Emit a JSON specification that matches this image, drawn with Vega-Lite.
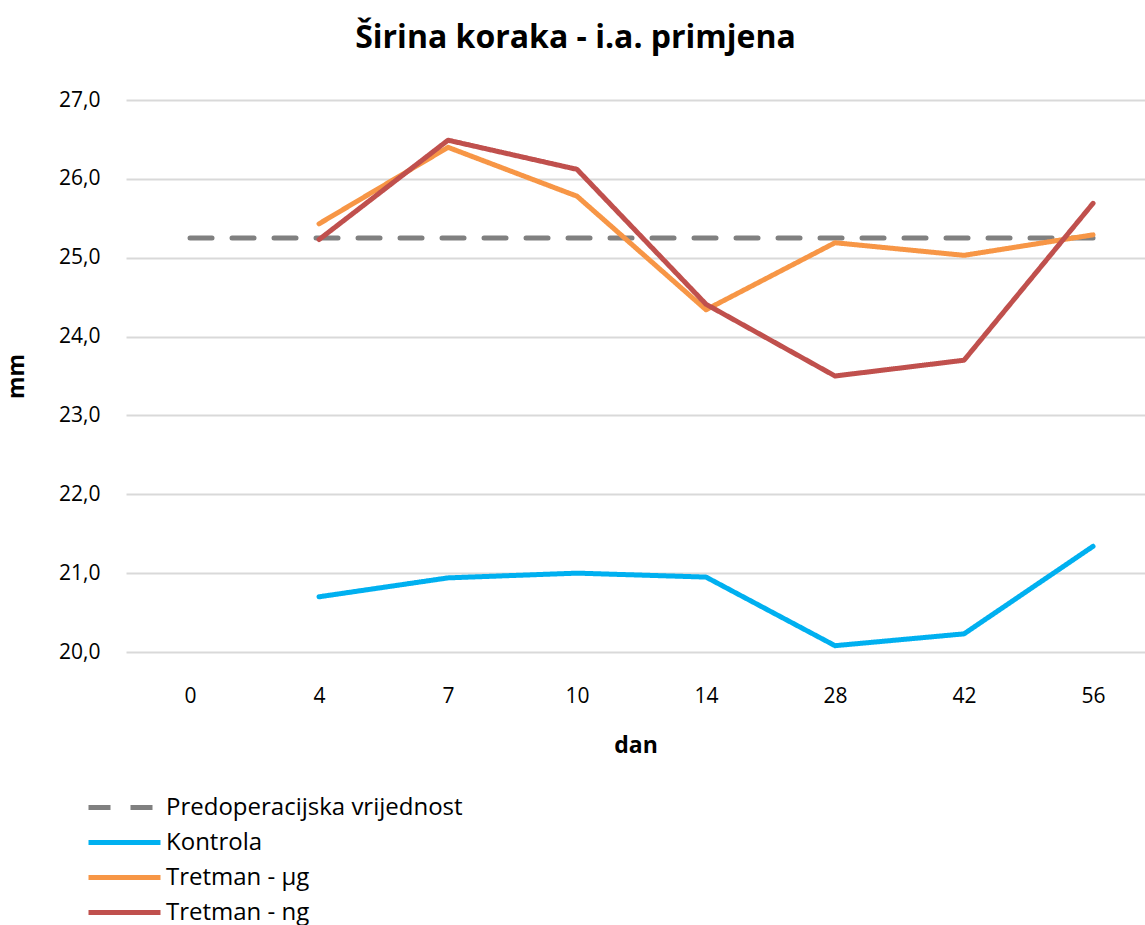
{
  "$schema": "https://vega.github.io/schema/vega-lite/v6.json",
  "width": 1019,
  "height": 552,
  "autosize": {"type": "none"},
  "padding": {"left": 126, "top": 100, "right": 0, "bottom": 273},
  "background": "white",
  "title": {
    "text": "Širina koraka - i.a. primjena",
    "font": "Open Sans",
    "fontSize": 32,
    "fontWeight": "bold",
    "color": "#000000",
    "anchor": "middle",
    "dx": -60,
    "offset": 34
  },
  "config": {
    "view": {"stroke": null},
    "font": "Open Sans"
  },
  "data": {
    "values": [
      {"dan": "0", "serija": "Predoperacijska vrijednost", "mm": 25.25},
      {"dan": "4", "serija": "Predoperacijska vrijednost", "mm": 25.25},
      {"dan": "7", "serija": "Predoperacijska vrijednost", "mm": 25.25},
      {"dan": "10", "serija": "Predoperacijska vrijednost", "mm": 25.25},
      {"dan": "14", "serija": "Predoperacijska vrijednost", "mm": 25.25},
      {"dan": "28", "serija": "Predoperacijska vrijednost", "mm": 25.25},
      {"dan": "42", "serija": "Predoperacijska vrijednost", "mm": 25.25},
      {"dan": "56", "serija": "Predoperacijska vrijednost", "mm": 25.25},
      {"dan": "4", "serija": "Kontrola", "mm": 20.70},
      {"dan": "7", "serija": "Kontrola", "mm": 20.94},
      {"dan": "10", "serija": "Kontrola", "mm": 21.00},
      {"dan": "14", "serija": "Kontrola", "mm": 20.95},
      {"dan": "28", "serija": "Kontrola", "mm": 20.08},
      {"dan": "42", "serija": "Kontrola", "mm": 20.23},
      {"dan": "56", "serija": "Kontrola", "mm": 21.34},
      {"dan": "4", "serija": "Tretman - µg", "mm": 25.43},
      {"dan": "7", "serija": "Tretman - µg", "mm": 26.40},
      {"dan": "10", "serija": "Tretman - µg", "mm": 25.78},
      {"dan": "14", "serija": "Tretman - µg", "mm": 24.34},
      {"dan": "28", "serija": "Tretman - µg", "mm": 25.19},
      {"dan": "42", "serija": "Tretman - µg", "mm": 25.03},
      {"dan": "56", "serija": "Tretman - µg", "mm": 25.29},
      {"dan": "4", "serija": "Tretman - ng", "mm": 25.23},
      {"dan": "7", "serija": "Tretman - ng", "mm": 26.49},
      {"dan": "10", "serija": "Tretman - ng", "mm": 26.12},
      {"dan": "14", "serija": "Tretman - ng", "mm": 24.41},
      {"dan": "28", "serija": "Tretman - ng", "mm": 23.50},
      {"dan": "42", "serija": "Tretman - ng", "mm": 23.70},
      {"dan": "56", "serija": "Tretman - ng", "mm": 25.69}
    ]
  },
  "mark": {"type": "line", "strokeWidth": 5, "strokeCap": "round", "strokeJoin": "round"},
  "encoding": {
    "x": {
      "field": "dan",
      "type": "ordinal",
      "sort": ["0", "4", "7", "10", "14", "28", "42", "56"],
      "scale": {"type": "point", "padding": 0.4496, "align": 0.552},
      "axis": {
        "title": "dan",
        "titleFont": "Open Sans",
        "titleFontSize": 23,
        "titleFontWeight": "bold",
        "titleColor": "#000000",
        "titlePadding": 28,
        "labelFont": "Open Sans",
        "labelFontSize": 21,
        "labelColor": "#000000",
        "labelPadding": 33,
        "labelAngle": 0,
        "domain": false,
        "ticks": false,
        "grid": false
      }
    },
    "y": {
      "field": "mm",
      "type": "quantitative",
      "scale": {"domain": [20, 27], "nice": false, "zero": false},
      "axis": {
        "title": "mm",
        "titleFont": "Open Sans",
        "titleFontSize": 23,
        "titleFontWeight": "bold",
        "titleColor": "#000000",
        "titlePadding": 30,
        "values": [20, 21, 22, 23, 24, 25, 26, 27],
        "labelExpr": "replace(format(datum.value, '.1f'), '.', ',')",
        "labelFont": "Open Sans",
        "labelFontSize": 21,
        "labelColor": "#000000",
        "labelPadding": 26,
        "domain": false,
        "ticks": false,
        "grid": true,
        "gridColor": "#d9d9d9",
        "gridWidth": 2
      }
    },
    "color": {
      "field": "serija",
      "type": "nominal",
      "sort": ["Predoperacijska vrijednost", "Kontrola", "Tretman - µg", "Tretman - ng"],
      "scale": {
        "domain": ["Predoperacijska vrijednost", "Kontrola", "Tretman - µg", "Tretman - ng"],
        "range": ["#808080", "#00B0F0", "#F79646", "#C0504D"]
      },
      "legend": {
        "title": null,
        "orient": "none",
        "legendX": -16,
        "legendY": 693,
        "direction": "vertical",
        "symbolType": "M-3,0H3",
        "symbolSize": 576,
        "symbolStrokeWidth": 5,
        "labelFont": "Open Sans",
        "labelFontSize": 24,
        "labelColor": "#000000",
        "labelOffset": 27,
        "rowPadding": 8,
        "labelLimit": 500
      }
    },
    "strokeDash": {
      "field": "serija",
      "type": "nominal",
      "sort": ["Predoperacijska vrijednost", "Kontrola", "Tretman - µg", "Tretman - ng"],
      "scale": {
        "domain": ["Predoperacijska vrijednost", "Kontrola", "Tretman - µg", "Tretman - ng"],
        "range": [[22, 20], [1, 0], [1, 0], [1, 0]]
      },
      "legend": null
    }
  }
}
